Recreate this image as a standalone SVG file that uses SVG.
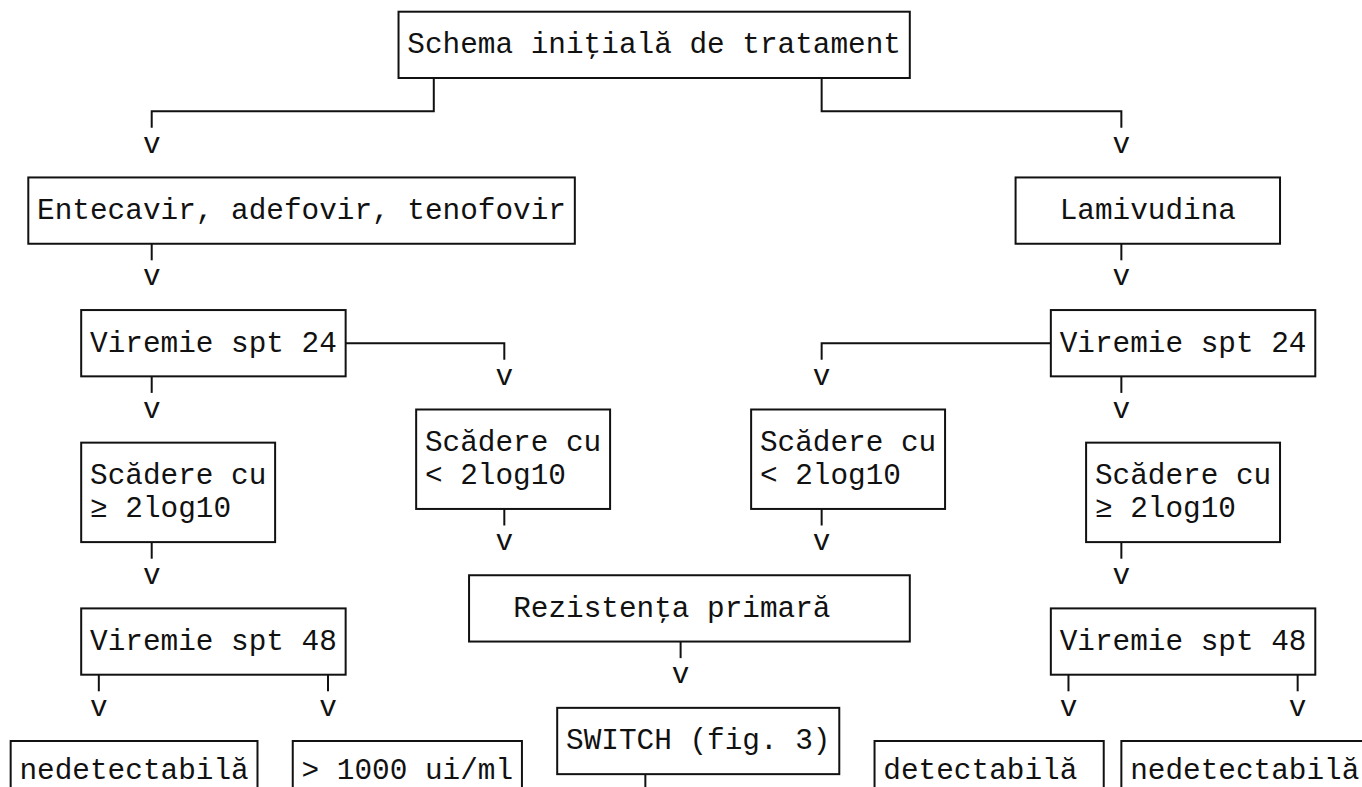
<svg xmlns="http://www.w3.org/2000/svg" width="1362" height="787" viewBox="0 0 1362 787">
<style>
.b{fill:#fff;stroke:#111;stroke-width:2}
.c{fill:none;stroke:#111;stroke-width:2}
text{font-family:"Liberation Mono","Courier New",monospace;font-size:29.38px;fill:#111;white-space:pre}
.v{text-anchor:middle}
</style>
<rect width="1362" height="787" fill="#fff"/>
<g id="connectors">
<path class="c" d="M433.79 78V111.15H151.71V127.7"/>
<path class="c" d="M821.65 78V111.15H1121.36V127.7"/>
<path class="c" d="M151.71 243.75V260.3"/>
<path class="c" d="M1121.36 243.75V260.3"/>
<path class="c" d="M345.64 343.2H504.31V359.8"/>
<path class="c" d="M1050.84 343.2H821.65V359.8"/>
<path class="c" d="M151.71 376.35V392.9"/>
<path class="c" d="M1121.36 376.35V392.9"/>
<path class="c" d="M504.31 508.95V525.5"/>
<path class="c" d="M821.65 508.95V525.5"/>
<path class="c" d="M151.71 542.1V558.7"/>
<path class="c" d="M1121.36 542.1V558.7"/>
<path class="c" d="M680.61 641.55V658.1"/>
<path class="c" d="M98.82 674.7V691.3"/>
<path class="c" d="M328.01 674.7V691.3"/>
<path class="c" d="M1068.47 674.7V691.3"/>
<path class="c" d="M1297.66 674.7V691.3"/>
<path class="c" d="M645.35 774.15V790"/>
<text class="v" x="151.71" y="152.6">v</text>
<text class="v" x="1121.36" y="152.6">v</text>
<text class="v" x="151.71" y="285.2">v</text>
<text class="v" x="1121.36" y="285.2">v</text>
<text class="v" x="504.31" y="384.65">v</text>
<text class="v" x="821.65" y="384.65">v</text>
<text class="v" x="151.71" y="417.8">v</text>
<text class="v" x="1121.36" y="417.8">v</text>
<text class="v" x="504.31" y="550.4">v</text>
<text class="v" x="821.65" y="550.4">v</text>
<text class="v" x="151.71" y="583.55">v</text>
<text class="v" x="1121.36" y="583.55">v</text>
<text class="v" x="680.61" y="683">v</text>
<text class="v" x="98.82" y="716.15">v</text>
<text class="v" x="328.01" y="716.15">v</text>
<text class="v" x="1068.47" y="716.15">v</text>
<text class="v" x="1297.66" y="716.15">v</text>
</g>
<g id="n-schema"><rect class="b" x="398.53" y="11.7" width="511.27" height="66.3"/><text x="407.35" y="53.15">Schema iniţială de tratament</text></g>
<g id="n-entecavir"><rect class="b" x="28.3" y="177.45" width="546.53" height="66.3"/><text x="37.12" y="218.9">Entecavir, adefovir, tenofovir</text></g>
<g id="n-lamivudina"><rect class="b" x="1015.58" y="177.45" width="264.45" height="66.3"/><text x="1059.66" y="218.9">Lamivudina</text></g>
<g id="n-viremie24-l"><rect class="b" x="81.19" y="310.05" width="264.45" height="66.3"/><text x="90" y="351.5">Viremie spt 24</text></g>
<g id="n-viremie24-r"><rect class="b" x="1050.84" y="310.05" width="264.45" height="66.3"/><text x="1059.66" y="351.5">Viremie spt 24</text></g>
<g id="n-scadere-lt-l"><rect class="b" x="416.16" y="409.5" width="193.93" height="99.45"/><text x="424.98" y="450.95">Scădere cu</text><text x="424.98" y="484.1">&lt; 2log10</text></g>
<g id="n-scadere-lt-r"><rect class="b" x="751.13" y="409.5" width="193.93" height="99.45"/><text x="759.95" y="450.95">Scădere cu</text><text x="759.95" y="484.1">&lt; 2log10</text></g>
<g id="n-scadere-ge-l"><rect class="b" x="81.19" y="442.65" width="193.93" height="99.45"/><text x="90" y="484.1">Scădere cu</text><text x="90" y="517.25">≥ 2log10</text></g>
<g id="n-scadere-ge-r"><rect class="b" x="1086.1" y="442.65" width="193.93" height="99.45"/><text x="1094.92" y="484.1">Scădere cu</text><text x="1094.92" y="517.25">≥ 2log10</text></g>
<g id="n-rezistenta"><rect class="b" x="469.05" y="575.25" width="440.75" height="66.3"/><text x="513.13" y="616.7">Rezistenţa primară</text></g>
<g id="n-viremie48-l"><rect class="b" x="81.19" y="608.4" width="264.45" height="66.3"/><text x="90" y="649.85">Viremie spt 48</text></g>
<g id="n-viremie48-r"><rect class="b" x="1050.84" y="608.4" width="264.45" height="66.3"/><text x="1059.66" y="649.85">Viremie spt 48</text></g>
<g id="n-switch"><rect class="b" x="557.2" y="707.85" width="282.08" height="66.3"/><text x="566.02" y="749.3">SWITCH (fig. 3)</text></g>
<g id="n-nedetectabila-l"><rect class="b" x="10.67" y="741" width="246.82" height="66.3"/><text x="19.49" y="779">nedetectabilă</text></g>
<g id="n-1000"><rect class="b" x="292.75" y="741" width="229.19" height="66.3"/><text x="301.57" y="779">&gt; 1000 ui/ml</text></g>
<g id="n-detectabila"><rect class="b" x="874.54" y="741" width="229.19" height="66.3"/><text x="883.36" y="779">detectabilă</text></g>
<g id="n-nedetectabila-r"><rect class="b" x="1121.36" y="741" width="246.82" height="66.3"/><text x="1130.18" y="779">nedetectabilă</text></g>
</svg>
